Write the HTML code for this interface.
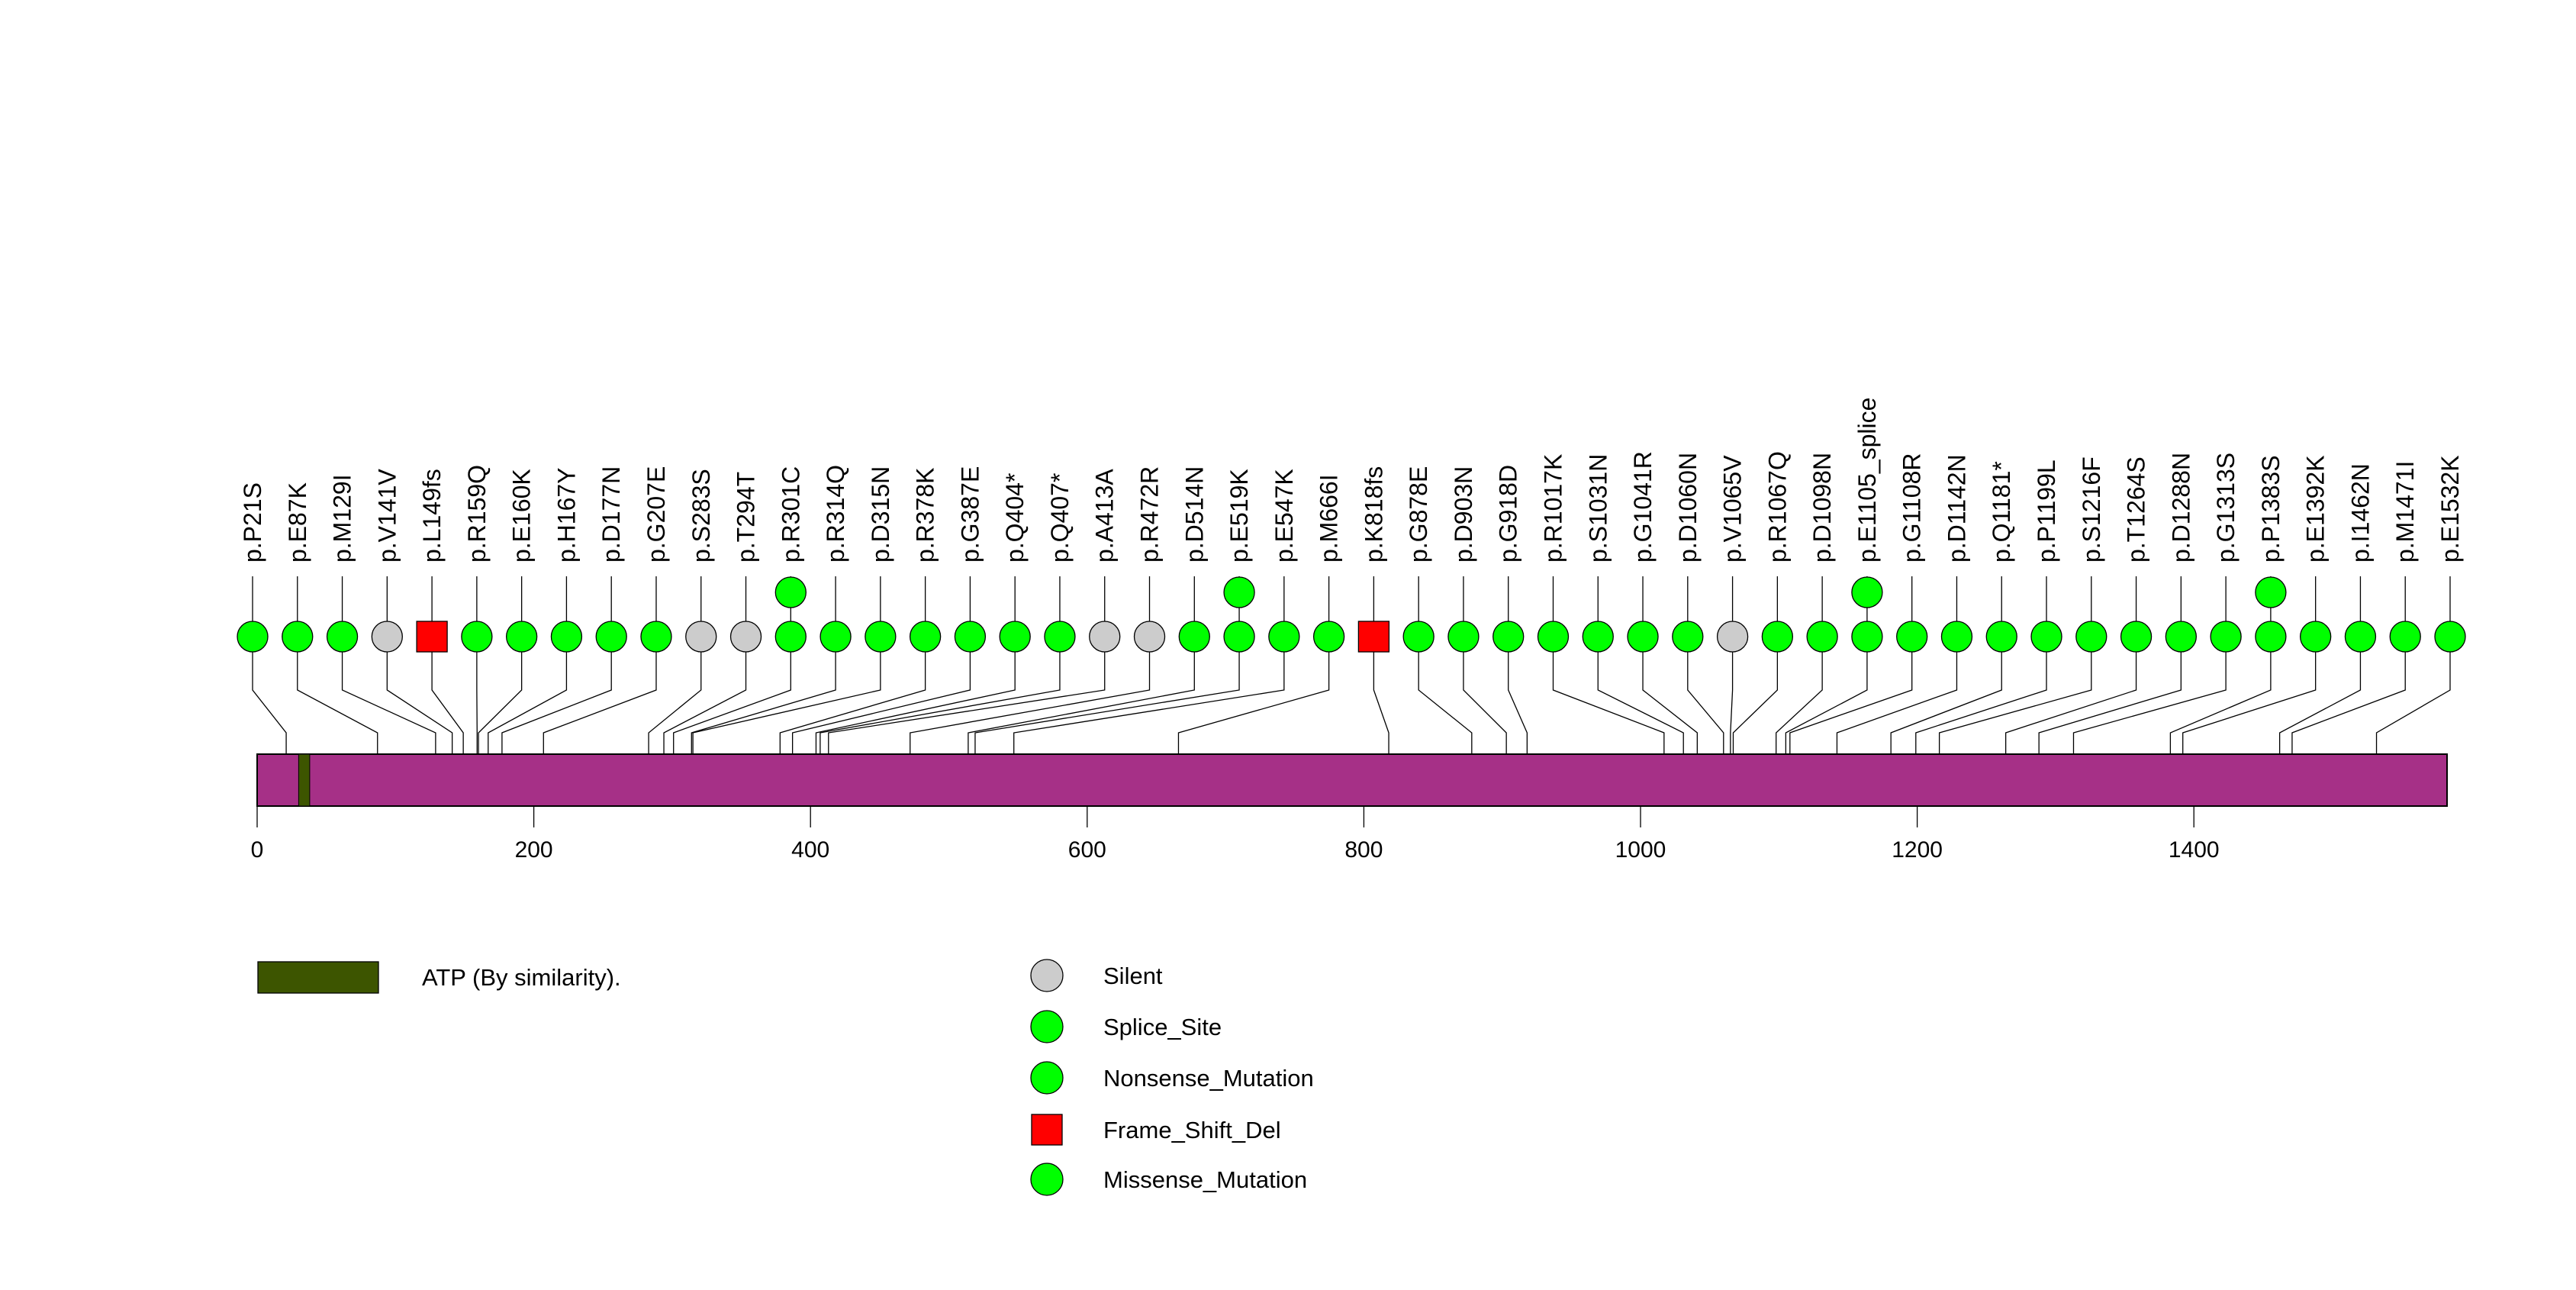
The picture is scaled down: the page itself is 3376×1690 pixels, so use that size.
<!DOCTYPE html>
<html><head><meta charset="utf-8"><style>
html,body{margin:0;padding:0;background:#fff;}
svg{display:block;font-family:"Liberation Sans",Arial,sans-serif;}
</style></head><body>
<svg id="chart" width="3376" height="1690" viewBox="0 0 3376 1690" xmlns="http://www.w3.org/2000/svg">
<rect width="3376" height="1690" fill="#fff"/>
<g id="stems"></g>
<g id="protein"></g>
<g id="marks"></g>
<g id="labels"></g>
<g id="axis"></g>
<g id="legend"></g>
</svg>
<script>
const labels=["p.P21S","p.E87K","p.M129I","p.V141V","p.L149fs","p.R159Q","p.E160K","p.H167Y","p.D177N","p.G207E","p.S283S","p.T294T","p.R301C","p.R314Q","p.D315N","p.R378K","p.G387E","p.Q404*","p.Q407*","p.A413A","p.R472R","p.D514N","p.E519K","p.E547K","p.M666I","p.K818fs","p.G878E","p.D903N","p.G918D","p.R1017K","p.S1031N","p.G1041R","p.D1060N","p.V1065V","p.R1067Q","p.D1098N","p.E1105_splice","p.G1108R","p.D1142N","p.Q1181*","p.P1199L","p.S1216F","p.T1264S","p.D1288N","p.G1313S","p.P1383S","p.E1392K","p.I1462N","p.M1471I","p.E1532K"];
const positions=[21,87,129,141,149,159,160,167,177,207,283,294,301,314,315,378,387,404,407,413,472,514,519,547,666,818,878,903,918,1017,1031,1041,1060,1065,1067,1098,1105,1108,1142,1181,1199,1216,1264,1288,1313,1383,1392,1462,1471,1532];
const counts=[1,1,1,1,1,1,1,1,1,1,1,1,2,1,1,1,1,1,1,1,1,1,2,1,1,1,1,1,1,1,1,1,1,1,1,1,2,1,1,1,1,1,1,1,1,2,1,1,1,1];
const types=["M","M","M","S","F","M","M","M","M","M","S","S","M","M","M","M","M","N","N","S","S","M","M","M","M","F","M","M","M","M","M","M","M","S","M","M","P","M","M","N","M","M","M","M","M","M","M","M","M","M"];
const proteinLength=1583;
const domainStart=30, domainEnd=38;
const ticks=[0,200,400,600,800,1000,1200,1400];

const NS="http://www.w3.org/2000/svg";
const X0=337, PX=(3207-337)/proteinLength;
const ax=v=>X0+v*PX;
const slotX=i=>331+i*(3211-331)/(labels.length-1);
const BAR_T=988, BAR_B=1056, ROW=834, STEP=58;
const colors={M:"#00ff00",N:"#00ff00",P:"#00ff00",S:"#cccccc",F:"#ff0000"};
function el(tag,attrs,parent){const e=document.createElementNS(NS,tag);for(const k in attrs)e.setAttribute(k,attrs[k]);parent.appendChild(e);return e;}
const gS=document.getElementById('stems'),gP=document.getElementById('protein'),gM=document.getElementById('marks'),gL=document.getElementById('labels'),gA=document.getElementById('axis'),gG=document.getElementById('legend');

const bar=el('rect',{x:ax(0),y:BAR_T,width:ax(proteinLength)-ax(0),height:BAR_B-BAR_T,fill:'#a63087',stroke:'#000','stroke-width':2},gP);


const dom=el('rect',{x:ax(domainStart),y:BAR_T,width:ax(domainEnd)-ax(domainStart),height:BAR_B-BAR_T,fill:'#3d5500',stroke:'#000','stroke-width':1},gP);



labels.forEach((lab,i)=>{
  const sx=slotX(i), px=ax(positions[i]);
  const st=el('polyline',{points:`${sx},755 ${sx},904 ${px},960 ${px},${BAR_B}`,fill:'none',stroke:'#000','stroke-width':1.3},gS);
  
  
  for(let k=0;k<counts[i];k++){
    const cy=ROW-k*STEP;
    let m;
    if(types[i]==='F'){m=el('rect',{x:sx-20,y:cy-20,width:40,height:40,fill:colors.F,stroke:'#000','stroke-width':1.3},gM);}
    else{m=el('circle',{cx:sx,cy:cy,r:20,fill:colors[types[i]],stroke:'#000','stroke-width':1.3},gM);}
    
    
  }
  const t=el('text',{x:0,y:0,transform:`translate(${sx+11},737) rotate(-90)`,'font-size':32,fill:'#000'},gL);
  t.textContent=lab;
  
  
});

ticks.forEach(v=>{
  const l=el('line',{x1:ax(v),x2:ax(v),y1:BAR_B,y2:1084,stroke:'#000','stroke-width':1.3},gA);
  
  
  const t=el('text',{x:ax(v),y:1123,'text-anchor':'middle','font-size':30},gA);
  t.textContent=v;
  
  
});

const lr=el('rect',{x:338,y:1260,width:158,height:41,fill:'#3d5500',stroke:'#000','stroke-width':1.3},gG);


const lt=el('text',{x:553,y:1291,'font-size':31},gG);
lt.textContent='ATP (By similarity).';


const legNames=["Silent","Splice_Site","Nonsense_Mutation","Frame_Shift_Del","Missense_Mutation"];
const legKeys=["S","P","N","F","M"];
const legY=[1278,1345,1412,1480,1545];
legNames.forEach((n,i)=>{
  let s;
  if(legKeys[i]==='F')s=el('rect',{x:1352,y:legY[i]-20,width:40,height:40,fill:colors.F,stroke:'#000','stroke-width':1.3},gG);
  else s=el('circle',{cx:1372,cy:legY[i],r:21,fill:colors[legKeys[i]],stroke:'#000','stroke-width':1.3},gG);
  
  
  const t=el('text',{x:1446,y:legY[i]+11,'font-size':31},gG);
  t.textContent=n;
  
  
});
</script>
</body></html>
